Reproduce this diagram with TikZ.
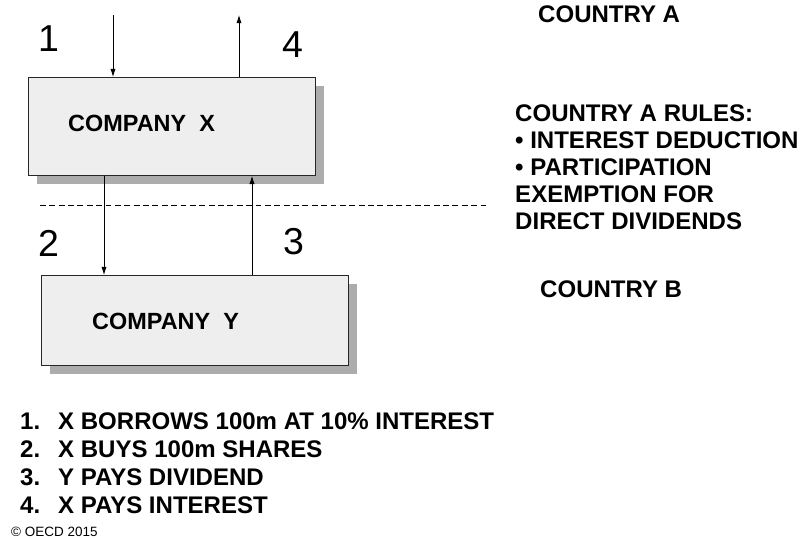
\documentclass[tikz,border=0pt]{standalone}
\usepackage{fontspec}
\setmainfont{Liberation Sans}
\usetikzlibrary{positioning, arrows.meta, calc, shadows}

\begin{document}
\begin{tikzpicture}[>={Latex[length=7pt, width=4.5pt]}, x=0.03cm, y=-0.03cm,
    company/.style={draw=black!85, line width=0.7pt, fill=gray!13, anchor=north west, inner sep=0pt,
        drop shadow={shadow xshift=0.25cm, shadow yshift=-0.25cm, fill=gray!65, opacity=1}},
    flow/.style={->, line width=0.7pt},
    num/.style={font=\fontsize{32}{32}\selectfont, anchor=base west, inner sep=0pt},
    big/.style={font=\fontsize{20.5}{24}\selectfont\bfseries, anchor=base west, inner sep=0pt}]

    % Plátno (stejné rozměry jako předloha)
    \useasboundingbox (0,0) rectangle (803,539);

    % 1. Společnosti
    \node[company, minimum width=8.61cm, minimum height=2.94cm] (compX) at (28,77) {};
    \node[company, minimum width=9.21cm, minimum height=2.70cm] (compY) at (41,275) {};
    \node[big, font=\fontsize{20}{24}\selectfont\bfseries] (nameX) at (68,132) {COMPANY\ \ X};
    \node[big, font=\fontsize{20}{24}\selectfont\bfseries] (nameY) at (92,330) {COMPANY\ \ Y};

    % 2. Hranice mezi státy
    \coordinate (borderL) at (40,205);
    \coordinate (borderR) at (487,205);
    \draw[dashed, dash pattern=on 5pt off 3pt, line width=0.6pt] (borderL) -- (borderR);

    % 3. Toky (1-4)
    \coordinate (top1) at (113,15);
    \coordinate (top4) at (239,15);
    \coordinate (mid2) at (104,205);
    \coordinate (mid3) at (252,205);
    \draw[flow] (top1) -- (top1 |- compX.north);
    \draw[flow] (top4 |- compX.north) -- (top4);
    \draw[flow] (mid2 |- compX.south) -- (mid2 |- compY.north);
    \draw[flow] (mid3 |- compY.north) -- (mid3 |- compX.south);

    \foreach \n/\px/\py in {1/38/52, 4/282/58, 2/38/257, 3/283/255} {
        \node[num] (num\n) at (\px,\py) {\n};
    }

    % 4. Státy a pravidla
    \node[big] (ctryA) at (538,23) {COUNTRY A};
    \node[big] (ctryB) at (540,298) {COUNTRY B};
    \foreach \i/\txt in {0/{COUNTRY A RULES:}, 1/{\textbullet\ INTEREST DEDUCTION},
        2/{\textbullet\ PARTICIPATION}, 3/{EXEMPTION FOR}, 4/{DIRECT DIVIDENDS}} {
        \node[big] (rule\i) at (515,122+27*\i) {\txt};
    }

    % 5. Legenda
    \foreach \n/\txt in {1/{X BORROWS 100m AT 10\% INTEREST}, 2/{X BUYS 100m SHARES},
        3/{Y PAYS DIVIDEND}, 4/{X PAYS INTEREST}} {
        \node[big] (step\n) at (20,430+27.7*\n-27.7) {\n.};
        \node[big] (item\n) at (58,430+27.7*\n-27.7) {\txt};
    }
    \node[anchor=base west, inner sep=0pt, font=\fontsize{11.5}{13}\selectfont] (copy) at (11,536) {\textcopyright\ OECD 2015};

\end{tikzpicture}
\end{document}
